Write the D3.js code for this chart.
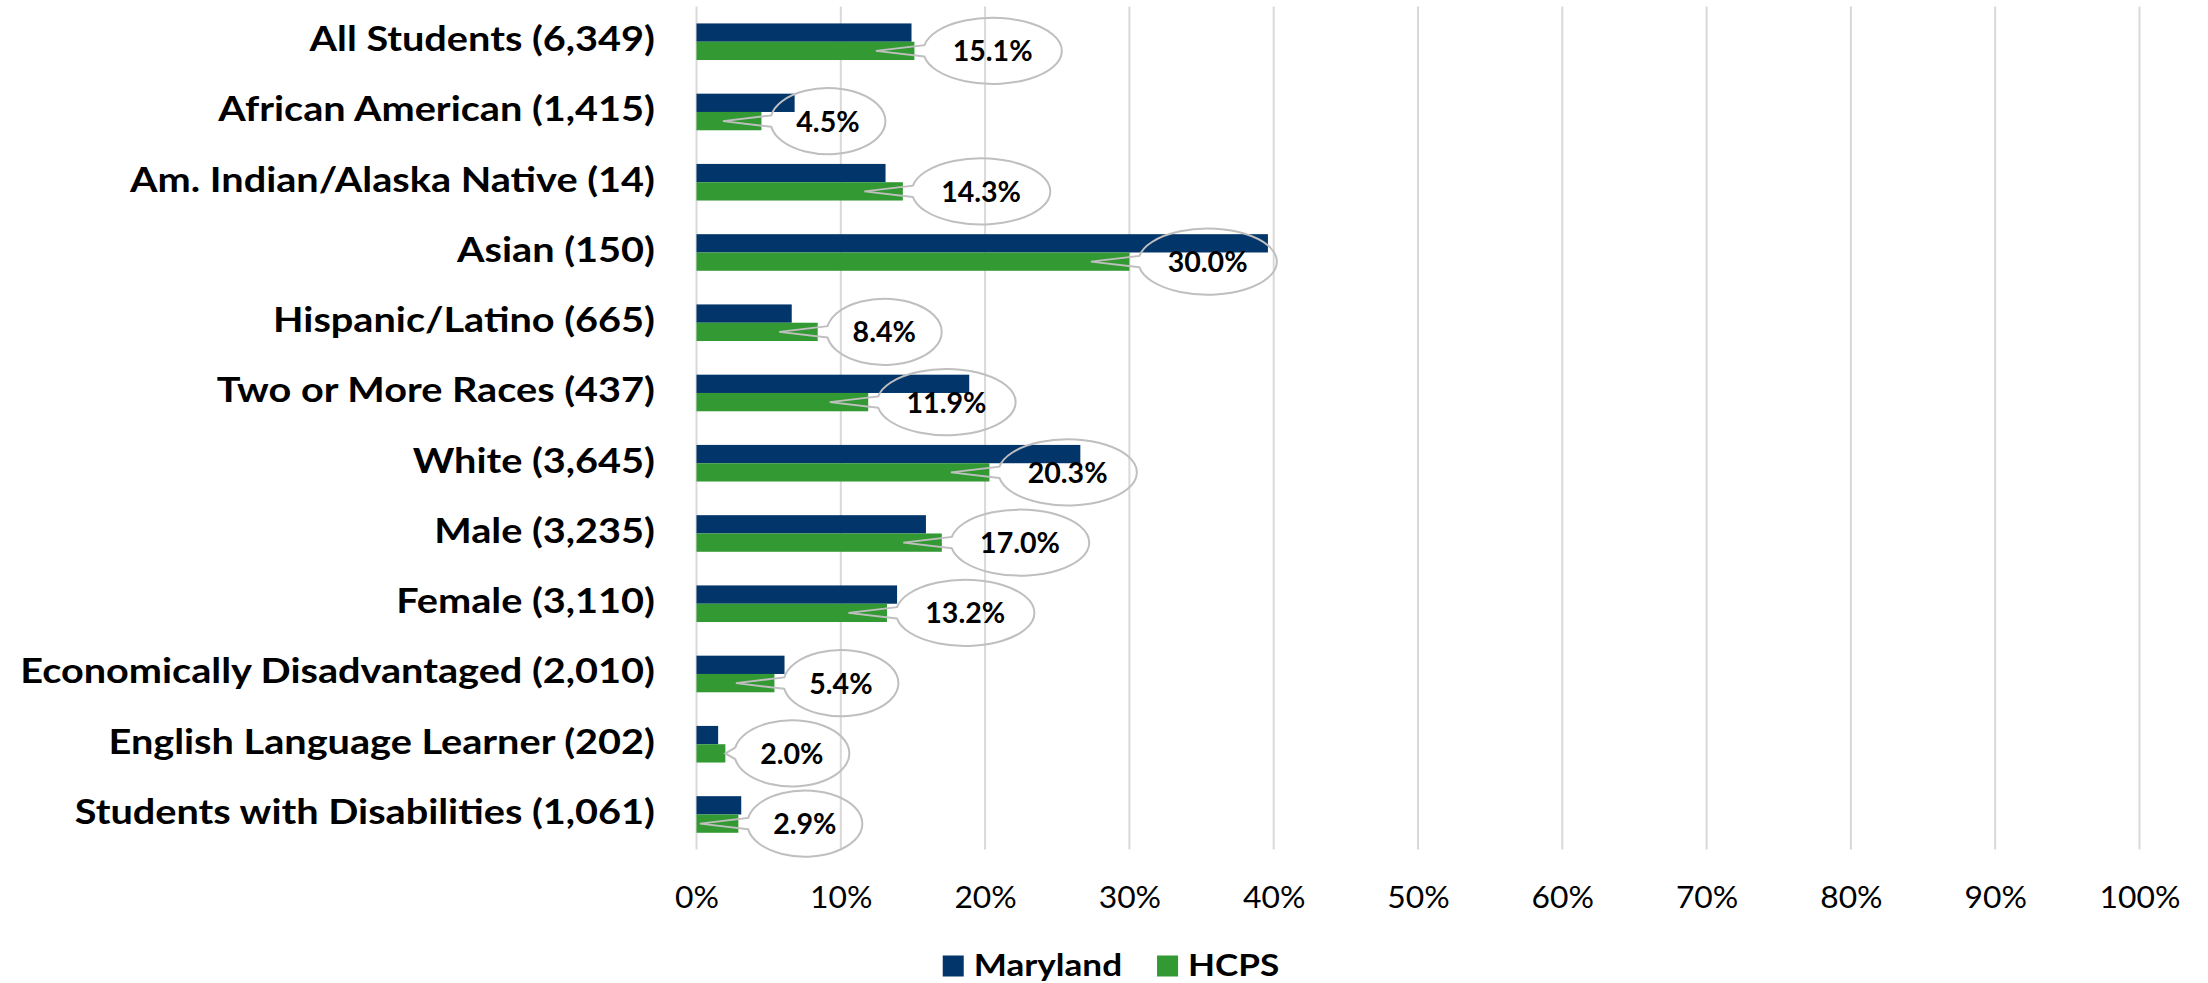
<!DOCTYPE html>
<html>
<head>
<meta charset="utf-8">
<script src="https://cdn.jsdelivr.net/npm/d3@7/dist/d3.min.js"></script>
<style>
  html, body { margin: 0; padding: 0; background: #ffffff; }
  svg { display: block; }
  text { font-family: Lato, "Open Sans", sans-serif; }
</style>
</head>
<body>
<svg id="chart" width="2208" height="983"></svg>
<script>
// ---- data ----
const categories = [
  "All Students (6,349)",
  "African American (1,415)",
  "Am. Indian/Alaska Native (14)",
  "Asian (150)",
  "Hispanic/Latino (665)",
  "Two or More Races (437)",
  "White (3,645)",
  "Male (3,235)",
  "Female (3,110)",
  "Economically Disadvantaged (2,010)",
  "English Language Learner (202)",
  "Students with Disabilities (1,061)"
];
const seriesNames = ["Maryland", "HCPS"];
const marylandValues = [0.149, 0.068, 0.131, 0.396, 0.066, 0.189, 0.266, 0.159, 0.139, 0.061, 0.015, 0.031];
const hcpsValues     = [0.151, 0.045, 0.143, 0.300, 0.084, 0.119, 0.203, 0.170, 0.132, 0.054, 0.020, 0.029];
const xTickValues = [0, 0.1, 0.2, 0.3, 0.4, 0.5, 0.6, 0.7, 0.8, 0.9, 1.0];
const colors = { Maryland: "#02366a", HCPS: "#339933" };

// ---- layout / style ----
const FONT = "Lato, 'Open Sans', sans-serif";
const svg = d3.select("#chart");
const plot = { left: 696.5, right: 2139.5, top: 6.6, bottom: 849.6 };
const catStyle = { size: 34.5, sx: 1.15 };
const lblStyle = { size: 28, sx: 1.02 };
const tickStyle = { size: 31.5, sx: 1.01 };
const legStyle = { size: 29.5, sx: 1.19 };

const x = d3.scaleLinear().domain([0, 1]).range([plot.left, plot.right]);
const y = d3.scaleBand().domain(categories).range([plot.top, plot.bottom])
  .paddingInner(0.479).paddingOuter(0.2395);
const ySub = d3.scaleBand().domain(seriesNames).range([0, y.bandwidth()]);

// gridlines
svg.append("g").selectAll("line").data(xTickValues).join("line")
  .attr("x1", d => x(d)).attr("x2", d => x(d))
  .attr("y1", plot.top).attr("y2", plot.bottom)
  .attr("stroke", "#d9d9d9").attr("stroke-width", 2);

// x axis tick labels
const xAxis = d3.axisBottom(x).tickValues(xTickValues).tickFormat(d3.format(".0%")).tickSize(0).tickPadding(0);
const gx = svg.append("g").attr("transform", `translate(0,${plot.bottom})`).call(xAxis);
gx.select(".domain").remove();
gx.selectAll("text")
  .attr("x", 0).attr("y", 0).attr("dy", 0)
  .attr("transform", `translate(0,58) scale(${tickStyle.sx},1)`)
  .attr("font-size", tickStyle.size).attr("fill", "#000")
  .style("font-family", FONT);

// y axis category labels
const yAxis = d3.axisLeft(y).tickSize(0).tickPadding(0);
const gy = svg.append("g").attr("transform", `translate(655,0)`).call(yAxis);
gy.select(".domain").remove();
gy.selectAll("text")
  .attr("x", 0).attr("y", 0).attr("dy", 0)
  .attr("transform", `translate(0,9.5) scale(${catStyle.sx},1)`)
  .attr("font-size", catStyle.size).attr("font-weight", "bold").attr("fill", "#000")
  .style("font-family", FONT);

// bars
const rows = categories.map((c, i) => ({ cat: c, Maryland: marylandValues[i], HCPS: hcpsValues[i] }));
const groups = svg.append("g").selectAll("g").data(rows).join("g")
  .attr("transform", d => `translate(0,${y(d.cat)})`);
groups.selectAll("rect").data(d => seriesNames.map(s => ({ s, v: d[s] }))).join("rect")
  .attr("x", x(0))
  .attr("y", d => ySub(d.s))
  .attr("width", d => x(d.v) - x(0))
  .attr("height", ySub.bandwidth())
  .attr("fill", d => colors[d.s]);

// HCPS data labels in wedge-ellipse callouts
const labelG = svg.append("g");
const fmt = d3.format(".1%");
rows.forEach(d => {
  const barEnd = x(d.HCPS);
  const cy = y(d.cat) + ySub("HCPS") + ySub.bandwidth() / 2;
  const t = labelG.append("text")
    .attr("font-size", lblStyle.size).attr("font-weight", "bold").attr("fill", "#000")
    .attr("text-anchor", "middle").style("font-family", FONT)
    .text(fmt(d.HCPS));
  const tw = t.node().getComputedTextLength() * lblStyle.sx;
  const rx = (tw / 2 + 9) * Math.SQRT2;
  const ry = 33;
  const cx = barEnd + 9 + rx;
  t.attr("transform", `translate(${cx},${cy + 10.5}) scale(${lblStyle.sx},1)`);
  const delta = 10 * Math.PI / 180;
  const pU = [cx + rx * Math.cos(Math.PI + delta), cy + ry * Math.sin(Math.PI + delta)];
  const pL = [cx + rx * Math.cos(Math.PI - delta), cy + ry * Math.sin(Math.PI - delta)];
  let tipX = barEnd - 38.5;
  if (tipX < plot.left) tipX = barEnd;
  const tip = [tipX, cy];
  const path = `M${pL[0]},${pL[1]} L${tip[0]},${tip[1]} L${pU[0]},${pU[1]} A${rx},${ry} 0 1 1 ${pL[0]},${pL[1]} Z`;
  labelG.insert("path", "text")
    .attr("d", path).attr("fill", "none")
    .attr("stroke", "#bfbfbf").attr("stroke-width", 2);
});

// legend
const legend = svg.append("g");
let lx = 0;
seriesNames.forEach(s => {
  const g = legend.append("g");
  g.append("rect").attr("x", 0).attr("y", -20.5).attr("width", 21).attr("height", 21).attr("fill", colors[s]);
  const tt = g.append("text")
    .attr("transform", `translate(31,0) scale(${legStyle.sx},1)`)
    .attr("font-size", legStyle.size).attr("font-weight", "bold").attr("fill", "#000")
    .style("font-family", FONT).text(s);
  const w = 31 + tt.node().getComputedTextLength() * legStyle.sx;
  g.attr("transform", `translate(${lx},0)`);
  lx += w + 35;
});
const totalW = lx - 35;
legend.attr("transform", `translate(${1111 - totalW / 2},976)`);
</script>
</body>
</html>
